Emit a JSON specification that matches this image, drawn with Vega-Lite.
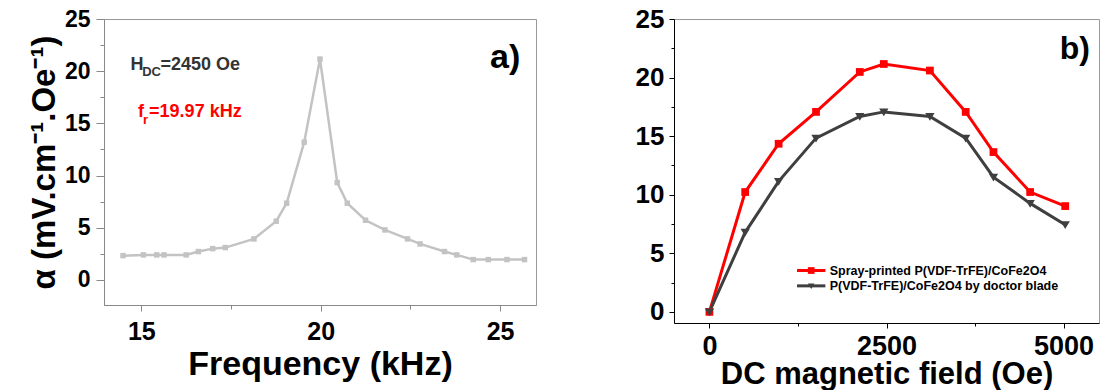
{
  "$schema": "https://vega.github.io/schema/vega-lite/v6.json",
  "padding": {"left": 27, "top": 5, "right": 0, "bottom": 0},
  "background": "white",
  "spacing": 97,
  "resolve": {"scale": {"color": "independent", "shape": "independent"}, "legend": {"color": "independent", "shape": "independent"}},
  "config": {
    "font": "Liberation Sans",
    "view": {"stroke": "#999999", "strokeWidth": 1},
    "axis": {"grid": false, "labelFont": "Liberation Sans", "labelFontWeight": "bold", "labelColor": "black", "titleFont": "Liberation Sans", "titleFontWeight": "bold", "titleColor": "black", "labelFlush": false}
  },
  "datasets": {
    "freq": [
      {"f": 14.49, "a": 2.33}, {"f": 15.06, "a": 2.4}, {"f": 15.43, "a": 2.4}, {"f": 15.63, "a": 2.4},
      {"f": 16.25, "a": 2.4}, {"f": 16.59, "a": 2.72}, {"f": 16.99, "a": 3.0}, {"f": 17.34, "a": 3.1},
      {"f": 18.14, "a": 3.93}, {"f": 18.76, "a": 5.63}, {"f": 19.05, "a": 7.35}, {"f": 19.54, "a": 13.2},
      {"f": 19.98, "a": 21.16}, {"f": 20.46, "a": 9.33}, {"f": 20.74, "a": 7.35}, {"f": 21.25, "a": 5.72},
      {"f": 21.79, "a": 4.79}, {"f": 22.42, "a": 3.93}, {"f": 22.77, "a": 3.45}, {"f": 23.45, "a": 2.72},
      {"f": 23.79, "a": 2.4}, {"f": 24.25, "a": 1.95}, {"f": 24.67, "a": 1.95}, {"f": 25.19, "a": 1.95},
      {"f": 25.68, "a": 1.95}
    ],
    "field": [
      {"H": 0, "alpha": 0, "series": "Spray-printed P(VDF-TrFE)/CoFe2O4"},
      {"H": 505, "alpha": 10.23, "series": "Spray-printed P(VDF-TrFE)/CoFe2O4"},
      {"H": 977, "alpha": 14.35, "series": "Spray-printed P(VDF-TrFE)/CoFe2O4"},
      {"H": 1505, "alpha": 17.07, "series": "Spray-printed P(VDF-TrFE)/CoFe2O4"},
      {"H": 2123, "alpha": 20.48, "series": "Spray-printed P(VDF-TrFE)/CoFe2O4"},
      {"H": 2462, "alpha": 21.16, "series": "Spray-printed P(VDF-TrFE)/CoFe2O4"},
      {"H": 3113, "alpha": 20.6, "series": "Spray-printed P(VDF-TrFE)/CoFe2O4"},
      {"H": 3618, "alpha": 17.07, "series": "Spray-printed P(VDF-TrFE)/CoFe2O4"},
      {"H": 4010, "alpha": 13.64, "series": "Spray-printed P(VDF-TrFE)/CoFe2O4"},
      {"H": 4528, "alpha": 10.23, "series": "Spray-printed P(VDF-TrFE)/CoFe2O4"},
      {"H": 5023, "alpha": 9.03, "series": "Spray-printed P(VDF-TrFE)/CoFe2O4"},
      {"H": 0, "alpha": 0, "series": "P(VDF-TrFE)/CoFe2O4 by doctor blade"},
      {"H": 505, "alpha": 6.79, "series": "P(VDF-TrFE)/CoFe2O4 by doctor blade"},
      {"H": 977, "alpha": 11.14, "series": "P(VDF-TrFE)/CoFe2O4 by doctor blade"},
      {"H": 1505, "alpha": 14.83, "series": "P(VDF-TrFE)/CoFe2O4 by doctor blade"},
      {"H": 2123, "alpha": 16.68, "series": "P(VDF-TrFE)/CoFe2O4 by doctor blade"},
      {"H": 2462, "alpha": 17.07, "series": "P(VDF-TrFE)/CoFe2O4 by doctor blade"},
      {"H": 3113, "alpha": 16.68, "series": "P(VDF-TrFE)/CoFe2O4 by doctor blade"},
      {"H": 3618, "alpha": 14.83, "series": "P(VDF-TrFE)/CoFe2O4 by doctor blade"},
      {"H": 4010, "alpha": 11.5, "series": "P(VDF-TrFE)/CoFe2O4 by doctor blade"},
      {"H": 4528, "alpha": 9.26, "series": "P(VDF-TrFE)/CoFe2O4 by doctor blade"},
      {"H": 5023, "alpha": 7.44, "series": "P(VDF-TrFE)/CoFe2O4 by doctor blade"}
    ],
    "one": [{}]
  },
  "hconcat": [
    {
      "width": 432,
      "height": 286,
      "resolve": {"axis": {"x": "independent", "y": "independent"}},
      "layer": [
        {
          "data": {"name": "freq"},
          "mark": {"type": "line", "color": "#c3c3c3", "strokeWidth": 2.5},
          "encoding": {
            "x": {"field": "f", "type": "quantitative", "scale": {"domain": [13.96, 26.0], "nice": false, "zero": false},
              "axis": {"orient": "bottom", "values": [15, 20, 25], "title": "Frequency (kHz)", "labelFontSize": 25, "titleFontSize": 34, "tickSize": 6, "labelPadding": 8, "titlePadding": 3, "domainColor": "#888888", "tickColor": "#888888"}},
            "y": {"field": "a", "type": "quantitative", "scale": {"domain": [-2.4, 25], "nice": false, "zero": false},
              "axis": {"orient": "left", "values": [0, 5, 10, 15, 20, 25], "title": "α (mV.cm⁻¹.Oe⁻¹)", "labelFontSize": 23, "titleFontSize": 33, "tickSize": 8, "labelPadding": 6, "titlePadding": 3, "domainColor": "#888888", "tickColor": "#888888"}}
          }
        },
        {
          "data": {"name": "freq"},
          "mark": {"type": "point", "shape": "square", "filled": true, "color": "#c3c3c3", "size": 30, "opacity": 1},
          "encoding": {
            "x": {"field": "f", "type": "quantitative", "axis": {"orient": "bottom", "values": [17.5, 22.5], "labels": false, "title": null, "tickSize": 4, "domain": false, "tickColor": "#888888"}},
            "y": {"field": "a", "type": "quantitative", "axis": {"orient": "left", "values": [2.5, 7.5, 12.5, 17.5, 22.5], "labels": false, "title": null, "tickSize": 4, "domain": false, "tickColor": "#888888"}}
          }
        },
        {
          "data": {"name": "one"},
          "mark": {"type": "text", "text": "H", "fontWeight": "bold", "fontSize": 18, "color": "#333333", "align": "left", "baseline": "alphabetic"},
          "encoding": {"x": {"datum": 14.7, "type": "quantitative", "axis": null}, "y": {"datum": 20.13, "type": "quantitative", "axis": null}}
        },
        {
          "data": {"name": "one"},
          "mark": {"type": "text", "text": "DC", "fontWeight": "bold", "fontSize": 13, "color": "#333333", "align": "left", "baseline": "alphabetic", "dx": 11.6, "dy": 6},
          "encoding": {"x": {"datum": 14.7, "type": "quantitative", "axis": null}, "y": {"datum": 20.13, "type": "quantitative", "axis": null}}
        },
        {
          "data": {"name": "one"},
          "mark": {"type": "text", "text": "=2450 Oe", "fontWeight": "bold", "fontSize": 18, "color": "#333333", "align": "left", "baseline": "alphabetic", "dx": 30},
          "encoding": {"x": {"datum": 14.7, "type": "quantitative", "axis": null}, "y": {"datum": 20.13, "type": "quantitative", "axis": null}}
        },
        {
          "data": {"name": "one"},
          "mark": {"type": "text", "text": "f", "fontWeight": "bold", "fontSize": 18, "color": "#ff0000", "align": "left", "baseline": "alphabetic"},
          "encoding": {"x": {"datum": 14.91, "type": "quantitative", "axis": null}, "y": {"datum": 15.6, "type": "quantitative", "axis": null}}
        },
        {
          "data": {"name": "one"},
          "mark": {"type": "text", "text": "r", "fontWeight": "bold", "fontSize": 13, "color": "#ff0000", "align": "left", "baseline": "alphabetic", "dx": 5, "dy": 7},
          "encoding": {"x": {"datum": 14.91, "type": "quantitative", "axis": null}, "y": {"datum": 15.6, "type": "quantitative", "axis": null}}
        },
        {
          "data": {"name": "one"},
          "mark": {"type": "text", "text": "=19.97 kHz", "fontWeight": "bold", "fontSize": 18, "color": "#ff0000", "align": "left", "baseline": "alphabetic", "dx": 11},
          "encoding": {"x": {"datum": 14.91, "type": "quantitative", "axis": null}, "y": {"datum": 15.6, "type": "quantitative", "axis": null}}
        },
        {
          "data": {"name": "one"},
          "mark": {"type": "text", "text": "a)", "fontWeight": "bold", "fontSize": 34, "color": "black", "align": "center", "baseline": "middle"},
          "encoding": {"x": {"datum": 25.14, "type": "quantitative", "axis": null}, "y": {"datum": 21.3, "type": "quantitative", "axis": null}}
        }
      ]
    },
    {
      "width": 425,
      "height": 304,
      "resolve": {"axis": {"x": "independent", "y": "independent"}},
      "layer": [
        {
          "data": {"name": "field"},
          "mark": {"type": "line", "strokeWidth": 3},
          "encoding": {
            "x": {"field": "H", "type": "quantitative", "scale": {"domain": [-500, 5500], "nice": false, "zero": false},
              "axis": {"orient": "bottom", "values": [0, 2500, 5000], "format": "d", "title": "DC magnetic field (Oe)", "labelFontSize": 27, "titleFontSize": 31, "tickSize": 5, "labelPadding": 5, "titlePadding": 0, "domainColor": "black", "tickColor": "black"}},
            "y": {"field": "alpha", "type": "quantitative", "scale": {"domain": [-0.95, 25], "nice": false, "zero": false},
              "axis": {"orient": "left", "values": [0, 5, 10, 15, 20, 25], "title": null, "labelFontSize": 26, "tickSize": 5, "labelPadding": 5, "domainColor": "black", "tickColor": "black"}},
            "color": {"field": "series", "type": "nominal",
              "scale": {"domain": ["Spray-printed P(VDF-TrFE)/CoFe2O4", "P(VDF-TrFE)/CoFe2O4 by doctor blade"], "range": ["#ff0000", "#3f3f3f"]},
              "legend": null}
          }
        },
        {
          "data": {"name": "field"},
          "mark": {"type": "point", "filled": true, "size": 60, "opacity": 1},
          "encoding": {
            "x": {"field": "H", "type": "quantitative", "axis": {"orient": "bottom", "values": [1250, 3750], "labels": false, "title": null, "tickSize": 3, "domain": false, "tickColor": "black"}},
            "y": {"field": "alpha", "type": "quantitative", "axis": {"orient": "left", "values": [2.5, 7.5, 12.5, 17.5, 22.5], "labels": false, "title": null, "tickSize": 3, "domain": false, "tickColor": "black"}},
            "color": {"field": "series", "type": "nominal", "scale": {"domain": ["Spray-printed P(VDF-TrFE)/CoFe2O4", "P(VDF-TrFE)/CoFe2O4 by doctor blade"], "range": ["#ff0000", "#3f3f3f"]}, "legend": null},
            "shape": {"field": "series", "type": "nominal", "scale": {"domain": ["Spray-printed P(VDF-TrFE)/CoFe2O4", "P(VDF-TrFE)/CoFe2O4 by doctor blade"], "range": ["square", "M-1.2,-0.9L1.2,-0.9L0,1.1Z"]}, "legend": null}
          }
        },
        {
          "data": {"name": "one"},
          "mark": {"type": "rule", "color": "#ff0000", "strokeWidth": 3},
          "encoding": {"x": {"datum": 1237, "type": "quantitative", "axis": null}, "x2": {"datum": 1637}, "y": {"datum": 3.53, "type": "quantitative", "axis": null}}
        },
        {
          "data": {"name": "one"},
          "mark": {"type": "point", "shape": "square", "filled": true, "color": "#ff0000", "size": 45, "opacity": 1},
          "encoding": {"x": {"datum": 1437, "type": "quantitative", "axis": null}, "y": {"datum": 3.53, "type": "quantitative", "axis": null}}
        },
        {
          "data": {"name": "one"},
          "mark": {"type": "text", "text": "Spray-printed P(VDF-TrFE)/CoFe2O4", "fontWeight": "bold", "fontSize": 12.5, "color": "black", "align": "left", "baseline": "middle"},
          "encoding": {"x": {"datum": 1698, "type": "quantitative", "axis": null}, "y": {"datum": 3.53, "type": "quantitative", "axis": null}}
        },
        {
          "data": {"name": "one"},
          "mark": {"type": "rule", "color": "#3f3f3f", "strokeWidth": 3},
          "encoding": {"x": {"datum": 1237, "type": "quantitative", "axis": null}, "x2": {"datum": 1637}, "y": {"datum": 2.22, "type": "quantitative", "axis": null}}
        },
        {
          "data": {"name": "one"},
          "mark": {"type": "point", "shape": "M-1.2,-0.9L1.2,-0.9L0,1.1Z", "filled": true, "color": "#3f3f3f", "size": 30, "opacity": 1},
          "encoding": {"x": {"datum": 1437, "type": "quantitative", "axis": null}, "y": {"datum": 2.22, "type": "quantitative", "axis": null}}
        },
        {
          "data": {"name": "one"},
          "mark": {"type": "text", "text": "P(VDF-TrFE)/CoFe2O4 by doctor blade", "fontWeight": "bold", "fontSize": 12.5, "color": "black", "align": "left", "baseline": "middle"},
          "encoding": {"x": {"datum": 1698, "type": "quantitative", "axis": null}, "y": {"datum": 2.22, "type": "quantitative", "axis": null}}
        },
        {
          "data": {"name": "one"},
          "mark": {"type": "text", "text": "b)", "fontWeight": "bold", "fontSize": 32, "color": "black", "align": "center", "baseline": "middle"},
          "encoding": {"x": {"datum": 5160, "type": "quantitative", "axis": null}, "y": {"datum": 22.4, "type": "quantitative", "axis": null}}
        }
      ]
    }
  ]
}
